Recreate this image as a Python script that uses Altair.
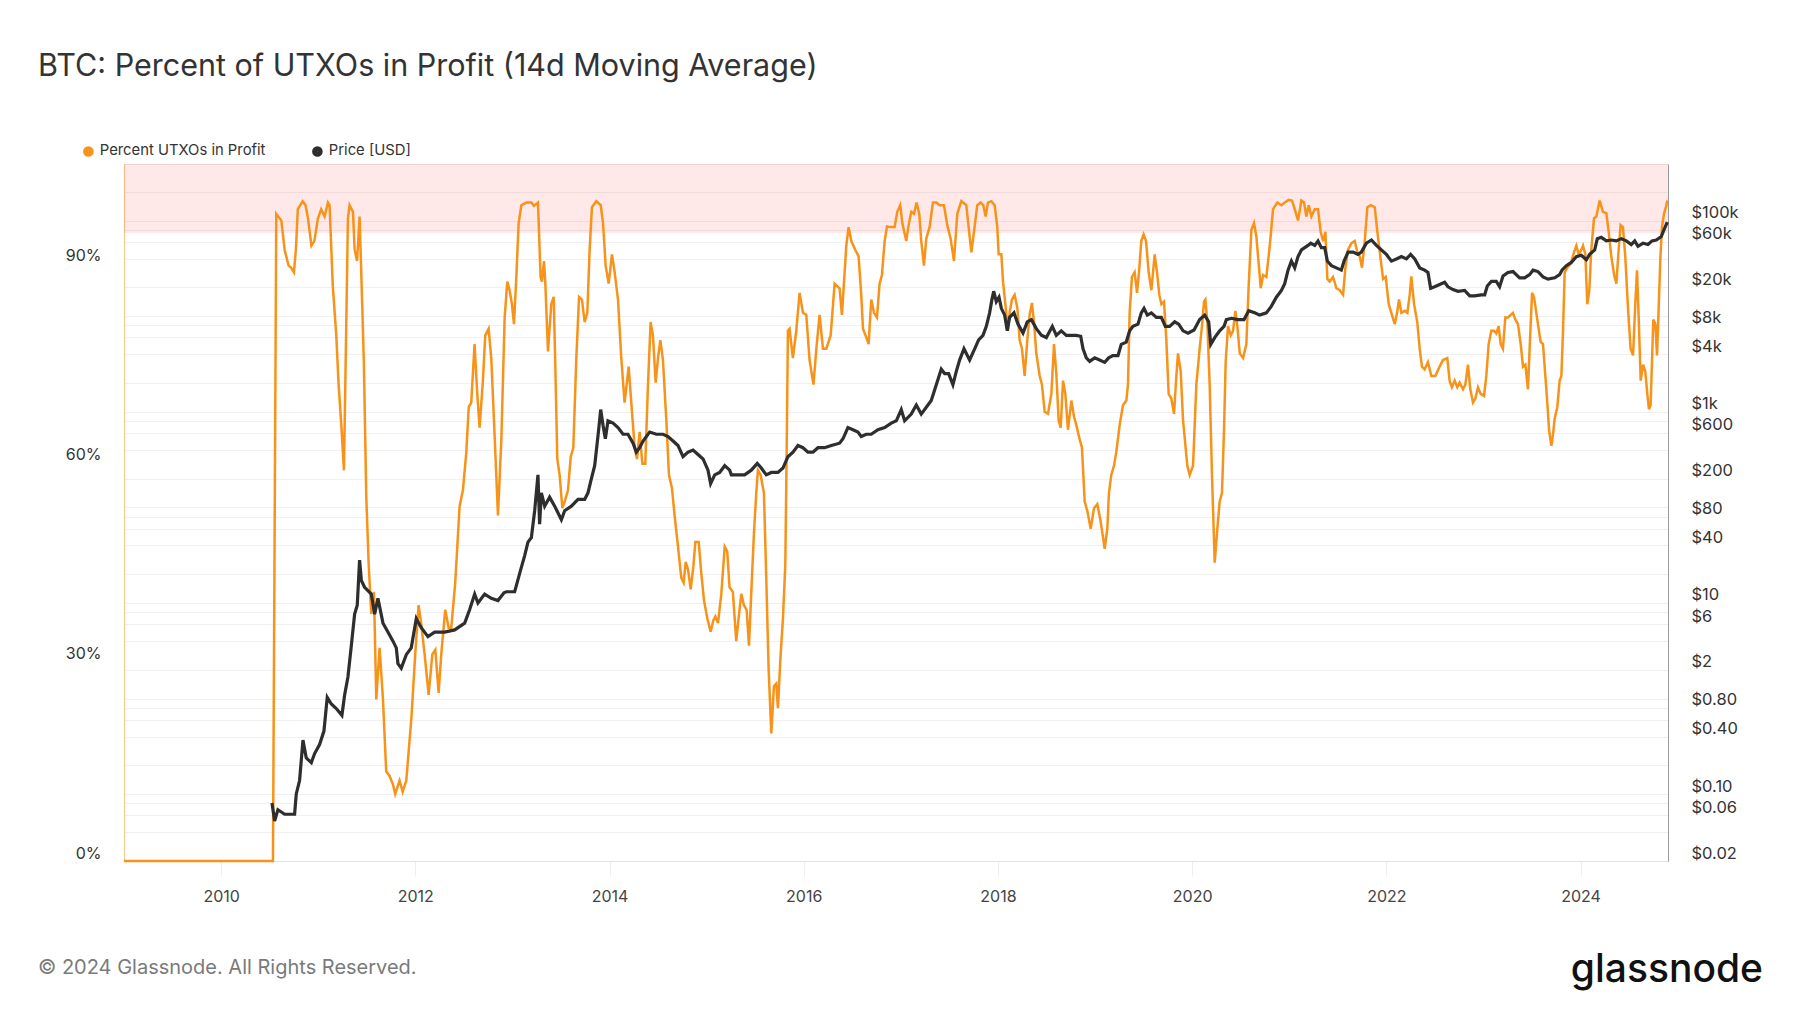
import altair as alt
import pandas as pd

TITLE = "BTC: Percent of UTXOs in Profit (14d Moving Average)"
FOOTER = "© 2024 Glassnode. All Rights Reserved."
BRAND = "glassnode"
SERIES = ["Percent UTXOs in Profit", "Price [USD]"]
COLORS = ["#f7931a", "#2e2e2e"]

# Percent of UTXOs in profit (decimal year, %)
pct_year = [
    2009.0, 2010.534, 2010.568, 2010.62, 2010.654, 2010.695, 2010.72, 2010.75, 2010.77, 2010.79,
    2010.84, 2010.87, 2010.894, 2010.93, 2010.96, 2010.997, 2011.03, 2011.066, 2011.10, 2011.117,
    2011.15, 2011.186, 2011.21, 2011.238, 2011.265, 2011.29, 2011.306, 2011.323, 2011.358, 2011.375,
    2011.40, 2011.426, 2011.45, 2011.47, 2011.495, 2011.52, 2011.546, 2011.574, 2011.598, 2011.632,
    2011.667, 2011.70, 2011.735, 2011.77, 2011.793, 2011.838, 2011.87, 2011.907, 2011.96, 2011.999,
    2012.034, 2012.06, 2012.096, 2012.137, 2012.175, 2012.206, 2012.24, 2012.267, 2012.308, 2012.343,
    2012.37, 2012.411, 2012.456, 2012.49, 2012.525, 2012.55, 2012.576, 2012.61, 2012.638, 2012.662,
    2012.696, 2012.72, 2012.755, 2012.782, 2012.81, 2012.851, 2012.886,
    2012.92, 2012.947, 2012.971, 2012.995, 2013.016, 2013.04, 2013.064, 2013.092, 2013.143, 2013.195,
    2013.222, 2013.263, 2013.29, 2013.304, 2013.325, 2013.338, 2013.366, 2013.40, 2013.425, 2013.442,
    2013.462, 2013.486, 2013.514, 2013.538, 2013.572, 2013.60, 2013.627, 2013.658, 2013.686, 2013.716,
    2013.744, 2013.771, 2013.795, 2013.819, 2013.864, 2013.909, 2013.933, 2013.96, 2013.991, 2014.025,
    2014.053, 2014.087, 2014.121, 2014.155, 2014.197, 2014.224, 2014.259, 2014.283, 2014.31, 2014.338,
    2014.368, 2014.396, 2014.423, 2014.447, 2014.475, 2014.499, 2014.523, 2014.55, 2014.585, 2014.612,
    2014.643, 2014.67, 2014.705, 2014.739, 2014.763, 2014.784, 2014.808, 2014.836, 2014.863, 2014.884,
    2014.918, 2014.945, 2014.973, 2015.007, 2015.041, 2015.069, 2015.09, 2015.117, 2015.151, 2015.186,
    2015.212, 2015.236, 2015.27, 2015.305, 2015.329, 2015.357, 2015.384, 2015.412, 2015.436, 2015.46,
    2015.487, 2015.511, 2015.528, 2015.556, 2015.59, 2015.614, 2015.638, 2015.666, 2015.693, 2015.717,
    2015.734, 2015.762, 2015.786, 2015.81, 2015.824, 2015.837, 2015.854, 2015.888, 2015.923, 2015.957,
    2015.992, 2016.026, 2016.06, 2016.10, 2016.13, 2016.163, 2016.198, 2016.232, 2016.277, 2016.318,
    2016.369, 2016.393, 2016.421, 2016.438, 2016.462, 2016.49, 2016.53, 2016.565, 2016.592, 2016.61,
    2016.644, 2016.668, 2016.695, 2016.723, 2016.754, 2016.781, 2016.805, 2016.833, 2016.857, 2016.895,
    2016.936, 2016.963, 2016.994, 2017.015, 2017.056, 2017.08, 2017.107, 2017.135, 2017.162, 2017.19,
    2017.21, 2017.238, 2017.262, 2017.296, 2017.33, 2017.365, 2017.399, 2017.444, 2017.478, 2017.512,
    2017.547,
    2017.581, 2017.623, 2017.674, 2017.698, 2017.726, 2017.753, 2017.787, 2017.822, 2017.849, 2017.873,
    2017.897, 2017.932, 2017.966, 2017.993, 2018.007, 2018.035, 2018.052, 2018.076, 2018.103, 2018.12,
    2018.144, 2018.172, 2018.20, 2018.223, 2018.247, 2018.275, 2018.302, 2018.326, 2018.35, 2018.371,
    2018.395, 2018.43, 2018.453, 2018.481, 2018.515, 2018.55, 2018.577, 2018.601, 2018.625, 2018.646,
    2018.67, 2018.694, 2018.721, 2018.756, 2018.783, 2018.807, 2018.841, 2018.865, 2018.893, 2018.92,
    2018.955, 2018.989, 2019.023, 2019.054, 2019.082, 2019.099, 2019.126, 2019.143, 2019.167, 2019.195,
    2019.218, 2019.253, 2019.287, 2019.322, 2019.339, 2019.356, 2019.38, 2019.408, 2019.432, 2019.452,
    2019.476, 2019.50, 2019.525, 2019.552, 2019.58, 2019.614, 2019.638, 2019.662, 2019.683, 2019.71,
    2019.734, 2019.758, 2019.785, 2019.813, 2019.837, 2019.854, 2019.882, 2019.906,
    2019.95, 2019.974, 2020.009, 2020.043, 2020.077, 2020.101, 2020.122, 2020.136, 2020.156, 2020.18,
    2020.204, 2020.232, 2020.259, 2020.283, 2020.307, 2020.328, 2020.345, 2020.369, 2020.397, 2020.421,
    2020.445, 2020.465, 2020.49, 2020.524, 2020.558, 2020.582, 2020.61, 2020.637, 2020.661, 2020.685,
    2020.706, 2020.73, 2020.764, 2020.799, 2020.833, 2020.877, 2020.919, 2020.953, 2020.994, 2021.028,
    2021.056, 2021.09, 2021.125, 2021.152, 2021.176, 2021.20, 2021.228, 2021.262, 2021.296, 2021.323,
    2021.348, 2021.372, 2021.392, 2021.416, 2021.451, 2021.485, 2021.519, 2021.554, 2021.578, 2021.605,
    2021.64, 2021.674, 2021.701, 2021.725, 2021.749, 2021.777, 2021.804, 2021.839, 2021.88, 2021.907,
    2021.935, 2021.966, 2021.993, 2022.024, 2022.051, 2022.086, 2022.11, 2022.13, 2022.154, 2022.189,
    2022.216, 2022.24, 2022.257, 2022.285,
    2022.318, 2022.343, 2022.366, 2022.394, 2022.428, 2022.463, 2022.504, 2022.548, 2022.583, 2022.627,
    2022.651, 2022.675, 2022.703, 2022.73, 2022.754, 2022.789, 2022.813, 2022.84, 2022.864, 2022.892,
    2022.916, 2022.943, 2022.971, 2023.005, 2023.029, 2023.053, 2023.081, 2023.108, 2023.132, 2023.156,
    2023.177, 2023.20, 2023.225, 2023.252, 2023.28, 2023.303, 2023.328, 2023.355, 2023.383, 2023.407,
    2023.431, 2023.458, 2023.475, 2023.50, 2023.52, 2023.544, 2023.568, 2023.589, 2023.613, 2023.637,
    2023.657, 2023.675, 2023.699, 2023.716, 2023.733, 2023.76, 2023.784, 2023.802, 2023.819, 2023.836,
    2023.863, 2023.898, 2023.932, 2023.956, 2023.98, 2024.008, 2024.025, 2024.049, 2024.069, 2024.09,
    2024.11, 2024.138, 2024.162, 2024.196, 2024.23, 2024.265, 2024.289, 2024.316, 2024.344, 2024.368,
    2024.392, 2024.412, 2024.436, 2024.46, 2024.488, 2024.515, 2024.54, 2024.563, 2024.581, 2024.598,
    2024.619, 2024.643, 2024.666, 2024.687, 2024.704, 2024.721, 2024.735, 2024.749, 2024.77, 2024.787,
    2024.804, 2024.821, 2024.838, 2024.859, 2024.873, 2024.893,
]
pct_value = [
    0, 0, 97.4, 96.4, 92.0, 89.6, 89.3, 88.6, 92.0, 98.1,
    99.3, 98.7, 96.8, 92.6, 93.3, 96.7, 98.1, 97.0, 99.1, 98.7,
    86.6, 79.1, 71.7, 65.6, 58.8, 81.8, 96.7, 98.7, 97.7, 92.0,
    90.3, 97.0, 85.2, 75.1, 54.8, 44.6, 37.2, 40.5, 24.3, 32.1,
    24.3, 13.5, 12.8, 11.5, 10.1, 12.1, 10.4, 12.1, 21.6, 31.1,
    38.5, 35.8, 31.1, 25.0, 31.1, 31.8, 25.3, 31.1, 37.8, 35.1,
    35.1, 41.9, 53.4, 55.8, 61.5, 68.3, 69.0, 77.8, 70.3, 65.2,
    72.3, 79.1, 80.1, 75.7, 66.3, 52.0, 63.5,
    81.8, 87.2, 85.9, 83.8, 80.8, 87.9, 96.0, 98.7, 99.1, 99.1,
    98.6, 99.1, 87.9, 87.2, 90.3, 87.2, 76.7, 83.8, 84.9, 74.4,
    60.5, 58.1, 53.1, 54.1, 55.8, 60.8, 62.2, 75.7, 84.9, 84.5,
    81.1, 82.5, 92.0, 98.4, 99.3, 98.7, 96.0, 89.6, 86.9, 91.3,
    88.6, 84.5, 75.7, 69.0, 74.4, 69.0, 62.2, 60.5, 64.6, 59.8,
    59.8, 71.7, 81.1, 79.1, 72.0, 75.7, 78.4, 75.4, 66.3, 58.1,
    56.1, 52.0, 47.3, 42.6, 41.9, 45.0, 43.9, 40.9, 44.3, 48.0,
    48.0, 43.3, 39.2, 36.5, 34.5, 36.2, 36.8, 35.8, 40.2, 47.3,
    46.6, 41.2, 40.5, 33.1, 36.5, 40.2, 38.5, 37.8, 32.4, 40.5,
    49.3, 55.4, 58.8, 58.1, 55.4, 42.6, 29.0, 19.2, 26.3, 26.7,
    23.0, 31.1, 36.5, 44.6, 61.5, 79.8, 80.1, 75.7, 79.8, 85.5,
    82.5, 82.2, 75.4, 71.7, 77.1, 82.2, 77.1, 77.1, 79.1, 86.9,
    86.2, 82.2, 88.6, 92.6, 95.4, 93.3, 92.0, 91.0, 85.2, 80.1,
    78.8, 77.8, 84.5, 82.5, 81.8, 86.9, 88.2, 93.3, 95.5, 95.4,
    95.4, 97.7, 98.7, 96.0, 93.3, 95.7, 97.7, 97.4, 99.1, 97.4,
    93.3, 89.6, 93.7, 95.4, 99.1, 99.1, 98.7, 98.7, 95.7, 93.7,
    90.3,
    97.4, 99.3, 98.7, 95.4, 91.6, 94.7, 98.7, 99.1, 98.7, 97.0,
    99.1, 99.3, 98.7, 95.4, 91.3, 91.3, 87.2, 83.8, 79.8, 82.5,
    84.5, 85.2, 83.2, 78.4, 77.1, 73.0, 78.4, 82.2, 84.0, 81.1,
    76.4, 73.0, 71.7, 67.6, 67.3, 70.3, 77.8, 73.4, 66.3, 65.2,
    72.3, 70.3, 64.9, 69.3, 66.9, 65.6, 63.5, 62.2, 54.1, 52.7,
    50.0, 53.1, 53.7, 51.4, 48.7, 47.0, 50.0, 55.4, 58.1, 59.5,
    61.5, 65.6, 68.6, 69.3, 71.7, 82.5, 87.9, 88.6, 85.5, 88.6,
    93.3, 94.3, 93.3, 88.6, 85.9, 91.3, 88.6, 85.2, 83.8, 84.2,
    78.4, 70.3, 69.6, 67.3, 73.0, 76.4, 73.7, 66.3,
    59.5, 58.1, 59.5, 71.7, 77.1, 80.5, 84.2, 84.5, 81.1, 71.7,
    58.1, 44.9, 50.0, 54.1, 55.4, 64.9, 75.1, 80.5, 79.1, 79.8,
    82.8, 80.5, 76.4, 75.7, 77.8, 86.6, 95.0, 96.0, 94.0, 89.9,
    86.2, 88.2, 87.9, 92.6, 98.1, 99.1, 98.7, 99.1, 99.5, 99.4,
    98.1, 96.4, 99.4, 99.1, 97.0, 98.7, 97.0, 98.1, 98.1, 94.7,
    93.3, 94.7, 87.6, 87.2, 87.9, 86.2, 85.9, 85.2, 89.3, 92.0,
    93.0, 93.3, 91.6, 91.0, 89.3, 93.3, 98.4, 98.7, 98.4, 94.7,
    91.3, 87.6, 87.9, 83.8, 82.5, 80.8, 82.5, 84.5, 82.5, 82.8,
    82.5, 85.2, 88.0, 83.8,
    81.1, 77.1, 74.4, 74.0, 75.1, 73.0, 73.0, 74.4, 75.4, 75.7,
    72.3, 71.3, 72.3, 71.3, 72.0, 71.0, 71.7, 74.7, 71.0, 69.0,
    69.6, 71.3, 70.3, 70.0, 73.0, 77.8, 79.8, 79.8, 79.4, 80.5,
    77.8, 77.1, 81.8, 81.8, 82.2, 82.5, 81.5, 80.8, 77.8, 74.4,
    74.7, 71.0, 77.1, 85.5, 84.9, 82.5, 80.1, 78.1, 77.8, 73.0,
    69.0, 64.9, 62.5, 64.2, 66.6, 68.3, 72.3, 73.0, 79.8, 88.6,
    89.3, 89.9, 91.6, 92.6, 91.3, 92.0, 92.6, 91.3, 83.8, 85.9,
    92.0, 96.7, 97.0, 99.4, 97.7, 97.5, 94.7, 91.0, 88.3, 86.9,
    92.0, 95.7, 95.4, 91.0, 83.2, 77.1, 76.1, 83.8, 88.9, 81.8,
    72.3, 74.7, 73.7, 70.3, 68.0, 68.6, 75.1, 81.5, 80.8, 76.1,
    83.2, 90.6, 95.4, 97.4, 98.1, 99.4,
]

# BTC price (decimal year, USD)
price_year = [
    2010.524, 2010.551, 2010.585, 2010.654, 2010.757, 2010.774, 2010.808, 2010.843, 2010.877, 2010.929,
    2010.963, 2011.014, 2011.059, 2011.093, 2011.135, 2011.186, 2011.244, 2011.272, 2011.306, 2011.341,
    2011.375, 2011.402, 2011.426, 2011.444, 2011.478, 2011.547, 2011.581, 2011.615, 2011.667, 2011.718,
    2011.77, 2011.804, 2011.821, 2011.855, 2011.907, 2011.958, 2012.01, 2012.061, 2012.13, 2012.199,
    2012.302, 2012.405, 2012.508, 2012.559, 2012.611, 2012.645, 2012.714, 2012.782, 2012.851, 2012.913,
    2012.937, 2013.023, 2013.074, 2013.126, 2013.16, 2013.195, 2013.229, 2013.263, 2013.28, 2013.298,
    2013.332, 2013.383, 2013.435, 2013.504, 2013.538, 2013.607, 2013.675, 2013.744, 2013.778, 2013.812,
    2013.847, 2013.888, 2013.909, 2013.933, 2013.957, 2013.984, 2014.036, 2014.087, 2014.139, 2014.19,
    2014.242, 2014.276, 2014.31, 2014.345, 2014.413, 2014.482, 2014.551, 2014.602, 2014.654, 2014.705,
    2014.757, 2014.808, 2014.86, 2014.911, 2014.963, 2015.014, 2015.041, 2015.083, 2015.134, 2015.186,
    2015.237,
    2015.254, 2015.322, 2015.391, 2015.46, 2015.521, 2015.563, 2015.614, 2015.666, 2015.734, 2015.786,
    2015.837, 2015.889, 2015.94, 2015.992, 2016.043, 2016.095, 2016.146, 2016.215, 2016.284, 2016.369,
    2016.404, 2016.455, 2016.507, 2016.558, 2016.592, 2016.644, 2016.695, 2016.764, 2016.833, 2016.901,
    2016.953, 2017.004, 2017.039, 2017.107, 2017.159, 2017.21, 2017.262, 2017.313, 2017.365, 2017.416,
    2017.451, 2017.492, 2017.536, 2017.571, 2017.605, 2017.65,
    2017.708, 2017.76, 2017.801, 2017.846, 2017.88, 2017.914, 2017.938, 2017.956, 2017.983, 2018.011,
    2018.035, 2018.069, 2018.096, 2018.12, 2018.165, 2018.206, 2018.258, 2018.302, 2018.344, 2018.395,
    2018.447, 2018.498, 2018.56, 2018.601, 2018.652, 2018.704, 2018.755, 2018.807, 2018.852, 2018.876,
    2018.91, 2018.944, 2018.996, 2019.047, 2019.099, 2019.14, 2019.184, 2019.236, 2019.27, 2019.321,
    2019.356, 2019.39, 2019.442, 2019.476, 2019.504, 2019.538, 2019.58, 2019.631, 2019.682, 2019.724,
    2019.768, 2019.82, 2019.861, 2019.906, 2019.957, 2020.019,
    2020.077, 2020.129, 2020.17, 2020.191, 2020.232, 2020.283, 2020.328, 2020.352, 2020.404, 2020.472,
    2020.534, 2020.582, 2020.644, 2020.695, 2020.764, 2020.816, 2020.867, 2020.919, 2020.953, 2020.987,
    2021.022, 2021.056, 2021.09, 2021.125, 2021.159, 2021.193, 2021.221, 2021.262, 2021.296, 2021.33,
    2021.365, 2021.392, 2021.434, 2021.485, 2021.536, 2021.564, 2021.605, 2021.657, 2021.708, 2021.742,
    2021.794, 2021.846, 2021.897, 2021.949, 2022.0, 2022.052, 2022.103, 2022.155, 2022.206, 2022.25,
    2022.292, 2022.343,
    2022.394, 2022.428, 2022.456, 2022.497, 2022.6, 2022.634, 2022.686, 2022.737, 2022.806, 2022.858,
    2022.909, 2022.978, 2023.012, 2023.039, 2023.081, 2023.132, 2023.166, 2023.201, 2023.252, 2023.304,
    2023.372, 2023.424, 2023.475, 2023.51, 2023.561, 2023.613, 2023.664, 2023.733, 2023.784, 2023.808,
    2023.853, 2023.904, 2023.956, 2024.008, 2024.059, 2024.093, 2024.145, 2024.172, 2024.213, 2024.265,
    2024.316, 2024.368, 2024.419, 2024.471, 2024.522, 2024.557, 2024.591, 2024.643, 2024.694, 2024.735,
    2024.78, 2024.831, 2024.859, 2024.893,
]
price_value = [
    0.081, 0.0525, 0.0687, 0.0617, 0.0617, 0.1005, 0.139, 0.368, 0.239, 0.214,
    0.266, 0.330, 0.457, 1.03, 0.877, 0.786, 0.668, 1.09, 1.68, 3.58,
    7.64, 9.49, 28.1, 17.2, 14.6, 12.4, 7.64, 11.2, 6.15, 4.96,
    3.99, 3.39, 2.32, 2.08, 2.88, 3.39, 6.86, 5.52, 4.45, 4.96,
    4.96, 5.23, 6.15, 8.51, 12.4, 10.0, 12.4, 11.2, 10.6, 12.8,
    13.1, 13.1, 20.3, 31.3, 43.3, 48.2, 92.3, 219, 66.7, 142,
    103, 128, 103, 74.3, 92.3, 103, 121, 121, 142, 197,
    273, 649, 1055, 722, 522, 805, 762, 684, 582, 582,
    469, 378, 421, 495, 614, 582, 582, 551, 495, 444,
    339, 378, 398, 357, 321, 245, 177, 219, 232, 273,
    245,
    219, 219, 219, 245, 288, 258, 219, 232, 232, 258,
    339, 378, 444, 421, 378, 378, 421, 421, 444, 469,
    522, 684, 649, 614, 551, 582, 582, 649, 684, 762,
    805, 1055, 805, 946, 1176, 946, 1114, 1311, 1916, 2798,
    2510, 2510, 1916, 2650, 3476, 4558,
    3476, 4558, 5659, 6306, 7834, 10840, 15000, 18230, 14200, 15810,
    12080, 10260, 7027, 9727, 10840, 8265, 6655, 8730, 9210, 7418,
    6306, 5974, 7834, 6306, 7027, 6306, 6306, 6306, 6170, 4558,
    3667, 3364, 3667, 3476, 3290, 3667, 3872, 3872, 5077, 5359,
    7027, 7834, 8265, 10840, 12080, 10260, 10840, 9727, 9727, 7834,
    7834, 8730, 8265, 7027, 6655, 7178,
    9210, 10260, 8730, 5077, 5974, 7027, 7834, 9210, 9510, 9210,
    9210, 11430, 10840, 10260, 10840, 12740, 15810, 18620, 21930, 30340,
    37670, 32000, 41980, 49320, 52120, 54950, 58080, 54950, 61240, 52120,
    52120, 37670, 33800, 32000, 30340, 37670, 46770, 46770, 44260, 46770,
    58080, 62660, 54950, 49320, 44260, 37670, 39720, 41980, 39720, 44260,
    39720, 32000,
    30300, 28700, 19600, 20300, 22600, 20300, 19000, 18200, 18600, 16300,
    16300, 16700, 16700, 20700, 23100, 23100, 20300, 26300, 28700, 29300,
    25200, 25200, 27200, 30300, 29300, 25800, 24400, 25200, 27200, 30300,
    33800, 36500, 42000, 43400, 38900, 44300, 49300, 64700, 66800, 61300,
    62600, 61300, 64700, 61300, 56200, 61300, 53800, 58100, 56200, 61300,
    62600, 68200, 80300, 96600,
]

# High-profit zone (shaded band) in percent
band_start = [2009.0]
band_end = [2024.9]
band_low = [94.5]
band_high = [104.9]

x_ticks = [2010, 2012, 2014, 2016, 2018, 2020, 2022, 2024]
pct_ticks = [0, 30, 60, 90]
price_ticks = [0.02, 0.04, 0.06, 0.08, 0.1, 0.2, 0.4, 0.6, 0.8, 1, 2, 4, 6, 8, 10, 20, 40, 60, 80,
               100, 200, 400, 600, 800, 1000, 2000, 4000, 6000, 8000, 10000, 20000, 40000, 60000,
               80000, 100000, 200000]
price_label_values = [0.02, 0.06, 0.1, 0.4, 0.8, 2, 6, 10, 40, 80, 200, 600, 1000, 4000, 8000,
                      20000, 60000, 100000]
price_label_text = ["$0.02", "$0.06", "$0.10", "$0.40", "$0.80", "$2", "$6", "$10", "$40", "$80",
                    "$200", "$600", "$1k", "$4k", "$8k", "$20k", "$60k", "$100k"]

W, H = 1544, 697
X_DOM = [2009.0, 2024.9]
PCT_DOM = [0, 104.9]
PRICE_DOM = [0.02, 390800]
FONT = "Inter"

price_expr = "''"
for v, lab in reversed(list(zip(price_label_values, price_label_text))):
    price_expr = f"abs(datum.value - {v}) < {v * 1e-6} ? '{lab}' : " + price_expr

pct_df = pd.DataFrame({"year": pct_year, "pct": pct_value, "series": SERIES[0]})
price_df = pd.DataFrame({"year": price_year, "price": price_value, "series": SERIES[1]})
band_df = pd.DataFrame({"x0": band_start, "x1": band_end, "lo": band_low, "hi": band_high})

x_enc = alt.X(
    "year:Q",
    scale=alt.Scale(domain=X_DOM, nice=False, zero=False),
    axis=alt.Axis(values=x_ticks, format="d", title=None, grid=False, tickSize=15,
                  tickColor="#eeeeee", labelPadding=12, domainColor="#e2e2e2",
                  labelFontSize=16, labelColor="#444444", labelFont=FONT),
)

color_enc = alt.Color(
    "series:N",
    scale=alt.Scale(domain=SERIES, range=COLORS),
    legend=alt.Legend(
        title=None, orient="none", legendX=-43, legendY=-20, direction="horizontal",
        symbolType="circle", symbolSize=26, symbolStrokeWidth=5.5, symbolOpacity=1,
        labelFontSize=14.8, labelColor="#333333", labelFont=FONT, columnPadding=37,
        labelOffset=4, padding=0, labelLimit=400,
    ),
)

band = alt.Chart(band_df).mark_rect(color="#ff0000", opacity=0.09).encode(
    x=alt.X("x0:Q", scale=alt.Scale(domain=X_DOM, nice=False, zero=False)),
    x2="x1:Q",
    y=alt.Y("lo:Q", scale=alt.Scale(domain=PCT_DOM, nice=False, zero=False), axis=None),
    y2="hi:Q",
)

orange = alt.Chart(pct_df).mark_line(strokeWidth=2.5).encode(
    x=x_enc,
    y=alt.Y("pct:Q", scale=alt.Scale(domain=PCT_DOM, nice=False, zero=False),
            axis=alt.Axis(orient="left", values=pct_ticks, labelExpr="datum.value + '%'",
                          title=None, grid=False, ticks=False, labelPadding=23, labelOffset=-8,
                          domainColor="#fbc98c", labelFontSize=16, labelColor="#333333",
                          labelFont=FONT)),
    color=color_enc,
)

black = alt.Chart(price_df).mark_line(strokeWidth=3.2).encode(
    x=x_enc,
    y=alt.Y("price:Q", scale=alt.Scale(type="log", domain=PRICE_DOM, nice=False),
            axis=alt.Axis(orient="right", values=price_ticks, labelExpr=price_expr, title=None,
                          grid=True, gridColor="#f0f0f0", ticks=False, labelPadding=23,
                          labelOffset=-8, domainColor="#9a9a9a", labelOverlap=False,
                          labelFontSize=16.5, labelColor="#333333", labelFont=FONT)),
    color=color_enc,
)

footer = alt.Chart(pd.DataFrame({"t": [FOOTER]})).mark_text(
    align="left", baseline="middle", fontSize=20, color="#7a7a7a", font=FONT
).encode(text="t:N", x=alt.value(-86), y=alt.value(804))

brand = alt.Chart(pd.DataFrame({"t": [BRAND]})).mark_text(
    align="right", baseline="alphabetic", fontSize=39, fontWeight=500, color="#111111", font=FONT
).encode(text="t:N", x=alt.value(1639), y=alt.value(818))

chart = alt.layer(band, orange, black, footer, brand).resolve_scale(
    y="independent"
).properties(
    width=W, height=H,
    title=alt.TitleParams(TITLE, anchor="start", frame="group", dx=-86, offset=62,
                          fontSize=30.5, fontWeight=400, color="#333333", font=FONT),
    padding={"left": 116, "top": 156, "right": 110, "bottom": 135},
    autosize=alt.AutoSizeParams(type="none"),
).configure_view(stroke="#e8e8e8")

chart.save("out.html", embed_options={"renderer": "svg", "actions": False})
